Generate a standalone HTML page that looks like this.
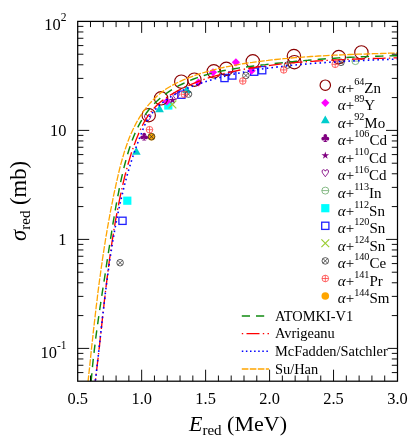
<!DOCTYPE html><html lang="en"><head><meta charset="utf-8"><style>html,body{margin:0;padding:0;background:#fff}svg{display:block;will-change:transform}text{font-family:"Liberation Serif",serif;fill:#000}</style></head><body>
<svg width="415" height="443" viewBox="0 0 415 443">
<rect width="415" height="443" fill="#fff"/>
<rect x="123.2" y="196.6" width="8.2" height="8.2" fill="#00ffff"/>
<rect x="164.2" y="101.4" width="8.2" height="8.2" fill="#00ffff"/>
<rect x="118.9" y="217.2" width="7.2" height="7.2" fill="none" stroke="#2020ff" stroke-width="1.3"/>
<rect x="177.8" y="91.1" width="7.2" height="7.2" fill="none" stroke="#2020ff" stroke-width="1.3"/>
<rect x="220.9" y="74.4" width="7.2" height="7.2" fill="none" stroke="#2020ff" stroke-width="1.3"/>
<rect x="228.7" y="71.9" width="7.2" height="7.2" fill="none" stroke="#2020ff" stroke-width="1.3"/>
<rect x="250.6" y="68.1" width="7.2" height="7.2" fill="none" stroke="#2020ff" stroke-width="1.3"/>
<rect x="258.6" y="66.6" width="7.2" height="7.2" fill="none" stroke="#2020ff" stroke-width="1.3"/>
<path d="M168.5,100.5 L176.3,108.3 M168.5,108.3 L176.3,100.5" stroke="#9acd32" stroke-width="1.15" fill="none"/>
<circle cx="151.5" cy="136.7" r="3.8" fill="#ffa500" stroke="#ffa500" stroke-width="0"/>
<path d="M136.3,146.9 L140.7,154.7 L132.0,154.7Z" fill="#00cdcd"/>
<path d="M159.6,104.4 L163.9,112.2 L155.2,112.2Z" fill="#00cdcd"/>
<path d="M186.7,85.3 L191.0,93.1 L182.3,93.1Z" fill="#00cdcd"/>
<g fill="#800080"><circle cx="144.2" cy="134.6" r="1.85"/><circle cx="142.1" cy="137.4" r="1.85"/><circle cx="146.2" cy="137.4" r="1.85"/><circle cx="144.2" cy="136.6" r="1.3"/><path d="M143.7,136.6 L144.7,136.6 L144.9,139.4 L146.5,140.6 L141.9,140.6 L143.5,139.4Z"/></g>
<polygon points="172.5,96.2 173.4,99.1 176.4,99.0 173.9,100.8 174.9,103.6 172.5,101.8 170.1,103.6 171.1,100.8 168.6,99.0 171.6,99.1" fill="#800080"/>
<path d="M147.7,121.5 C146.2,119.4 144.1,117.4 144.5,115.7 C144.9,114.0 147.1,114.0 147.7,116.1 C148.3,114.0 150.5,114.0 150.9,115.7 C151.3,117.4 149.2,119.4 147.7,121.5Z" fill="none" stroke="#800080" stroke-width="0.9"/>
<path d="M176.0,99.6 C174.5,97.5 172.4,95.5 172.8,93.8 C173.2,92.1 175.4,92.1 176.0,94.2 C176.6,92.1 178.8,92.1 179.2,93.8 C179.6,95.5 177.5,97.5 176.0,99.6Z" fill="none" stroke="#800080" stroke-width="0.9"/>
<g stroke="#6aaa6a" stroke-width="0.8" fill="none"><circle cx="355.4" cy="61.1" r="3.5"/><path d="M351.9,61.1 H358.9"/></g>
<path d="M166.8,97.4 L170.9,101.5 L166.8,105.6 L162.7,101.5Z" fill="#ff00ff"/>
<path d="M198.5,78.4 L202.6,82.5 L198.5,86.6 L194.4,82.5Z" fill="#ff00ff"/>
<path d="M213.0,68.2 L217.1,72.3 L213.0,76.4 L208.9,72.3Z" fill="#ff00ff"/>
<path d="M235.9,58.2 L240.0,62.3 L235.9,66.4 L231.8,62.3Z" fill="#ff00ff"/>
<path d="M251.6,66.6 L255.7,70.7 L251.6,74.8 L247.5,70.7Z" fill="#ff00ff"/>
<circle cx="148.7" cy="115.2" r="6.7" fill="none" stroke="#8b0000" stroke-width="1.15"/>
<circle cx="161.1" cy="98.3" r="6.7" fill="none" stroke="#8b0000" stroke-width="1.15"/>
<circle cx="181.3" cy="81.7" r="6.7" fill="none" stroke="#8b0000" stroke-width="1.15"/>
<circle cx="194.4" cy="79.7" r="6.7" fill="none" stroke="#8b0000" stroke-width="1.15"/>
<circle cx="213.8" cy="71.3" r="6.7" fill="none" stroke="#8b0000" stroke-width="1.15"/>
<circle cx="226.3" cy="68.8" r="6.7" fill="none" stroke="#8b0000" stroke-width="1.15"/>
<circle cx="252.8" cy="61.3" r="6.7" fill="none" stroke="#8b0000" stroke-width="1.15"/>
<circle cx="293.9" cy="56.1" r="6.7" fill="none" stroke="#8b0000" stroke-width="1.15"/>
<circle cx="294.4" cy="62.2" r="6.7" fill="none" stroke="#8b0000" stroke-width="1.15"/>
<circle cx="338.8" cy="57.1" r="6.7" fill="none" stroke="#8b0000" stroke-width="1.15"/>
<circle cx="361.4" cy="52.4" r="6.7" fill="none" stroke="#8b0000" stroke-width="1.15"/>
<g stroke="#333333" stroke-width="0.8" fill="none"><circle cx="120.1" cy="262.7" r="3.3"/><path d="M117.8,260.4 L122.4,265.0 M117.8,265.0 L122.4,260.4"/></g>
<g stroke="#333333" stroke-width="0.8" fill="none"><circle cx="151.5" cy="136.7" r="3.3"/><path d="M149.2,134.4 L153.8,139.0 M149.2,139.0 L153.8,134.4"/></g>
<g stroke="#333333" stroke-width="0.8" fill="none"><circle cx="188.5" cy="94.1" r="3.3"/><path d="M186.2,91.8 L190.8,96.4 M186.2,96.4 L190.8,91.8"/></g>
<g stroke="#333333" stroke-width="0.8" fill="none"><circle cx="245.9" cy="75.5" r="3.3"/><path d="M243.6,73.2 L248.2,77.8 M243.6,77.8 L248.2,73.2"/></g>
<g stroke="#333333" stroke-width="0.8" fill="none"><circle cx="287.5" cy="65.1" r="3.3"/><path d="M285.2,62.8 L289.8,67.4 M285.2,67.4 L289.8,62.8"/></g>
<g stroke="#333333" stroke-width="0.8" fill="none"><circle cx="341.0" cy="62.3" r="3.3"/><path d="M338.7,60.0 L343.3,64.6 M338.7,64.6 L343.3,60.0"/></g>
<g stroke="#ff4040" stroke-width="0.8" fill="none"><circle cx="149.5" cy="129.7" r="3.3"/><path d="M146.2,129.7 H152.8 M149.5,126.4 V133.0"/></g>
<g stroke="#ff4040" stroke-width="0.8" fill="none"><circle cx="184.3" cy="94.3" r="3.3"/><path d="M181.0,94.3 H187.6 M184.3,91.0 V97.6"/></g>
<g stroke="#ff4040" stroke-width="0.8" fill="none"><circle cx="242.8" cy="81.0" r="3.3"/><path d="M239.5,81.0 H246.1 M242.8,77.7 V84.3"/></g>
<g stroke="#ff4040" stroke-width="0.8" fill="none"><circle cx="283.7" cy="69.9" r="3.3"/><path d="M280.4,69.9 H287.0 M283.7,66.6 V73.2"/></g>
<g stroke="#ff4040" stroke-width="0.8" fill="none"><circle cx="335.2" cy="64.3" r="3.3"/><path d="M331.9,64.3 H338.5 M335.2,61.0 V67.6"/></g>
<clipPath id="cp"><rect x="77.7" y="21.4" width="319.8" height="359.8"/></clipPath>
<g clip-path="url(#cp)" fill="none">
<path d="M91.2,381.0 L91.5,377.1 L91.9,373.3 L92.2,369.4 L92.6,365.5 L93.0,361.7 L93.4,357.8 L93.9,354.0 L94.3,350.1 L94.8,346.2 L95.2,342.4 L95.7,338.5 L96.2,334.7 L96.7,330.8 L97.3,327.0 L97.8,323.1 L98.3,319.3 L98.9,315.4 L99.4,311.6 L100.0,307.7 L100.6,303.9 L101.1,300.0 L101.7,296.2 L102.3,292.4 L102.9,288.5 L103.5,284.7 L104.1,280.8 L104.7,277.0 L105.3,273.2 L105.8,269.3 L106.4,265.5 L107.0,261.6 L107.6,257.8 L108.2,254.0 L108.8,250.1 L109.4,246.3 L110.0,242.5 L110.6,238.6 L111.2,234.8 L111.8,231.0 L112.4,227.1 L113.0,223.3 L113.7,219.5 L114.3,215.7 L115.0,211.8 L115.6,208.0 L116.3,204.2 L117.0,200.4 L117.7,196.6 L118.5,192.8 L119.2,189.0 L120.0,185.2 L120.8,181.4 L121.6,177.6 L122.5,173.8 L123.4,170.0 L124.3,166.2 L125.3,162.5 L126.3,158.7 L127.4,155.0 L128.5,151.2 L129.7,147.5 L131.0,143.8 L132.3,140.1 L133.7,136.5 L135.2,132.9 L136.8,129.3 L138.5,125.9 L140.4,122.4 L142.3,119.1 L144.4,115.9 L146.6,112.7 L148.9,109.7 L151.4,106.8 L154.0,104.0 L156.8,101.3 L159.6,98.7 L162.6,96.3 L165.7,93.9 L168.9,91.7 L172.1,89.6 L175.4,87.6 L178.8,85.7 L182.3,84.0 L185.8,82.3 L189.4,80.7 L193.0,79.3 L196.6,77.9 L200.3,76.7 L204.0,75.5 L207.7,74.4 L211.5,73.4 L215.3,72.5 L219.0,71.6 L222.9,70.8 L226.7,70.0 L230.5,69.3 L234.4,68.7 L238.3,68.1 L242.1,67.5 L246.0,67.0 L249.9,66.5 L253.8,66.0 L257.7,65.5 L261.5,65.0 L265.4,64.6 L269.3,64.1 L273.1,63.7 L277.0,63.3 L280.9,62.9 L284.7,62.5 L288.6,62.1 L292.4,61.7 L296.3,61.3 L300.2,60.9 L304.0,60.6 L307.9,60.3 L311.7,59.9 L315.6,59.6 L319.4,59.3 L323.3,59.0 L327.1,58.7 L331.0,58.5 L334.8,58.2 L338.7,57.9 L342.5,57.7 L346.4,57.5 L350.3,57.3 L354.2,57.1 L358.0,56.9 L361.9,56.7 L365.8,56.6 L369.7,56.4 L373.6,56.3 L377.5,56.2 L381.4,56.1 L385.3,56.0 L389.2,55.9 L393.1,55.8 L397.0,55.8" stroke="#108a10" stroke-width="1.45" stroke-dasharray="8.3,6.1" stroke-dashoffset="0.5"/>
<path d="M95.3,381.0 L95.8,377.2 L96.3,373.4 L96.7,369.5 L97.2,365.7 L97.6,361.9 L98.1,358.1 L98.5,354.2 L98.9,350.4 L99.4,346.6 L99.8,342.8 L100.2,338.9 L100.6,335.1 L101.1,331.3 L101.5,327.5 L101.9,323.6 L102.3,319.8 L102.7,316.0 L103.2,312.1 L103.6,308.3 L104.0,304.5 L104.4,300.7 L104.9,296.8 L105.3,293.0 L105.8,289.2 L106.2,285.4 L106.7,281.6 L107.2,277.7 L107.6,273.9 L108.1,270.1 L108.6,266.3 L109.1,262.5 L109.6,258.7 L110.2,254.8 L110.7,251.0 L111.2,247.2 L111.8,243.4 L112.4,239.6 L113.0,235.8 L113.6,232.0 L114.2,228.2 L114.9,224.4 L115.5,220.7 L116.2,216.9 L116.9,213.1 L117.6,209.3 L118.4,205.5 L119.1,201.8 L119.9,198.0 L120.7,194.2 L121.5,190.5 L122.4,186.7 L123.2,182.9 L124.1,179.2 L125.0,175.4 L126.0,171.7 L127.0,168.0 L128.0,164.3 L129.1,160.6 L130.2,156.9 L131.3,153.2 L132.6,149.5 L133.8,145.9 L135.2,142.3 L136.5,138.7 L138.0,135.2 L139.5,131.6 L141.1,128.1 L142.8,124.7 L144.6,121.3 L146.6,118.0 L148.6,114.8 L150.9,111.8 L153.3,108.9 L155.9,106.2 L158.7,103.6 L161.7,101.1 L164.8,98.8 L168.0,96.6 L171.2,94.5 L174.6,92.6 L177.9,90.7 L181.4,88.9 L184.9,87.2 L188.4,85.6 L191.9,84.0 L195.5,82.6 L199.1,81.2 L202.7,79.9 L206.4,78.6 L210.0,77.4 L213.7,76.3 L217.4,75.3 L221.1,74.3 L224.8,73.3 L228.6,72.4 L232.3,71.6 L236.1,70.8 L239.9,70.0 L243.6,69.3 L247.4,68.6 L251.2,68.0 L255.0,67.4 L258.8,66.8 L262.6,66.3 L266.4,65.8 L270.3,65.3 L274.1,64.8 L277.9,64.3 L281.7,63.9 L285.6,63.5 L289.4,63.1 L293.2,62.8 L297.0,62.4 L300.9,62.1 L304.7,61.8 L308.6,61.5 L312.4,61.3 L316.2,61.0 L320.1,60.8 L323.9,60.5 L327.8,60.3 L331.6,60.1 L335.5,59.9 L339.3,59.8 L343.2,59.6 L347.0,59.4 L350.8,59.3 L354.7,59.2 L358.5,59.0 L362.4,58.9 L366.2,58.8 L370.1,58.6 L373.9,58.5 L377.8,58.4 L381.6,58.3 L385.5,58.2 L389.3,58.1 L393.2,57.9 L397.0,57.8" stroke="#ff0000" stroke-width="1.35" stroke-dasharray="1.4,3.25,12.93,3.25" stroke-dashoffset="-6.0"/>
<path d="M95.3,381.0 L95.8,377.2 L96.2,373.4 L96.7,369.6 L97.1,365.8 L97.5,362.0 L98.0,358.2 L98.4,354.4 L98.8,350.6 L99.2,346.8 L99.7,343.0 L100.1,339.2 L100.5,335.4 L100.9,331.6 L101.3,327.8 L101.8,324.0 L102.2,320.2 L102.6,316.4 L103.1,312.6 L103.5,308.8 L104.0,304.9 L104.4,301.1 L104.9,297.3 L105.3,293.5 L105.8,289.7 L106.3,285.9 L106.8,282.1 L107.3,278.3 L107.8,274.5 L108.3,270.7 L108.8,266.9 L109.4,263.1 L109.9,259.3 L110.5,255.5 L111.1,251.7 L111.7,248.0 L112.3,244.2 L112.9,240.4 L113.6,236.6 L114.2,232.9 L114.9,229.1 L115.6,225.3 L116.3,221.6 L117.1,217.8 L117.8,214.1 L118.6,210.3 L119.4,206.6 L120.2,202.9 L121.1,199.2 L122.0,195.4 L122.9,191.7 L123.8,188.0 L124.7,184.3 L125.7,180.6 L126.7,176.9 L127.7,173.2 L128.8,169.6 L129.9,165.9 L131.0,162.3 L132.2,158.6 L133.4,155.0 L134.6,151.4 L135.9,147.7 L137.2,144.1 L138.6,140.6 L139.9,137.0 L141.4,133.4 L142.8,129.8 L144.2,126.3 L145.8,122.8 L147.6,119.5 L149.7,116.3 L151.9,113.3 L154.4,110.4 L157.0,107.7 L159.7,105.1 L162.6,102.7 L165.6,100.4 L168.7,98.2 L171.9,96.1 L175.2,94.2 L178.6,92.4 L182.0,90.7 L185.5,89.0 L189.1,87.5 L192.7,86.1 L196.4,84.7 L200.0,83.4 L203.7,82.2 L207.4,81.0 L211.1,79.9 L214.9,78.8 L218.6,77.8 L222.3,76.8 L226.0,75.9 L229.7,75.0 L233.4,74.2 L237.2,73.4 L240.9,72.7 L244.6,71.9 L248.4,71.2 L252.1,70.6 L255.9,70.0 L259.7,69.4 L263.4,68.8 L267.2,68.3 L271.0,67.8 L274.8,67.3 L278.5,66.8 L282.3,66.4 L286.1,65.9 L289.9,65.5 L293.8,65.1 L297.6,64.7 L301.4,64.4 L305.2,64.1 L309.0,63.7 L312.8,63.4 L316.7,63.1 L320.5,62.9 L324.3,62.6 L328.2,62.3 L332.0,62.1 L335.8,61.9 L339.7,61.6 L343.5,61.4 L347.3,61.2 L351.2,61.0 L355.0,60.8 L358.8,60.7 L362.7,60.5 L366.5,60.3 L370.3,60.1 L374.1,60.0 L377.9,59.8 L381.8,59.7 L385.6,59.5 L389.4,59.3 L393.2,59.2 L397.0,59.0" stroke="#0000ff" stroke-width="1.6" stroke-dasharray="1.6,3.23" stroke-dashoffset="-0.4"/>
<path d="M88.1,381.1 L88.5,377.1 L88.9,373.2 L89.4,369.2 L89.8,365.3 L90.2,361.4 L90.6,357.4 L91.0,353.5 L91.4,349.6 L91.8,345.7 L92.3,341.8 L92.7,337.9 L93.1,334.0 L93.5,330.1 L94.0,326.2 L94.4,322.3 L94.9,318.4 L95.3,314.5 L95.8,310.6 L96.2,306.7 L96.7,302.9 L97.2,299.0 L97.6,295.1 L98.1,291.2 L98.6,287.4 L99.1,283.5 L99.6,279.6 L100.2,275.8 L100.7,271.9 L101.2,268.0 L101.8,264.2 L102.3,260.3 L102.9,256.5 L103.5,252.6 L104.1,248.7 L104.7,244.9 L105.3,241.0 L105.9,237.2 L106.6,233.3 L107.2,229.5 L107.9,225.6 L108.6,221.7 L109.3,217.9 L110.0,214.0 L110.7,210.2 L111.5,206.3 L112.3,202.5 L113.0,198.6 L113.8,194.7 L114.6,190.9 L115.5,187.0 L116.3,183.1 L117.2,179.3 L118.1,175.4 L119.0,171.5 L119.9,167.7 L120.9,163.8 L122.0,160.0 L123.1,156.2 L124.2,152.4 L125.4,148.7 L126.7,145.0 L128.0,141.3 L129.4,137.6 L130.9,134.0 L132.5,130.5 L134.2,127.0 L135.9,123.6 L137.8,120.2 L139.8,116.9 L141.9,113.7 L144.1,110.5 L146.5,107.4 L148.9,104.4 L151.6,101.5 L154.3,98.7 L157.1,96.0 L160.1,93.5 L163.2,91.1 L166.4,88.8 L169.8,86.7 L173.2,84.8 L176.7,83.0 L180.2,81.3 L183.9,79.7 L187.5,78.2 L191.2,76.8 L194.9,75.4 L198.7,74.2 L202.4,73.0 L206.2,71.8 L210.0,70.8 L213.7,69.8 L217.6,68.8 L221.4,67.9 L225.2,67.1 L229.1,66.3 L232.9,65.5 L236.8,64.8 L240.6,64.2 L244.5,63.5 L248.4,62.9 L252.3,62.4 L256.2,61.8 L260.1,61.3 L264.0,60.8 L267.9,60.4 L271.8,59.9 L275.7,59.5 L279.6,59.1 L283.5,58.7 L287.4,58.4 L291.3,58.0 L295.2,57.7 L299.1,57.4 L303.0,57.1 L306.9,56.8 L310.8,56.5 L314.7,56.3 L318.6,56.0 L322.5,55.8 L326.4,55.6 L330.3,55.4 L334.3,55.2 L338.2,55.0 L342.1,54.9 L346.0,54.7 L349.9,54.5 L353.9,54.4 L357.8,54.2 L361.7,54.1 L365.6,54.0 L369.5,53.8 L373.5,53.7 L377.4,53.6 L381.3,53.5 L385.2,53.4 L389.2,53.2 L393.1,53.1 L397.0,53.0" stroke="#ffa500" stroke-width="1.3" stroke-dasharray="6.7,1.44" stroke-dashoffset="1.0"/>
</g>
<path d="M90.49,381.2 v-5.7 M90.49,21.4 v5.7 M103.28,381.2 v-5.7 M103.28,21.4 v5.7 M116.08,381.2 v-5.7 M116.08,21.4 v5.7 M128.87,381.2 v-5.7 M128.87,21.4 v5.7 M141.66,381.2 v-11.5 M141.66,21.4 v11.5 M154.45,381.2 v-5.7 M154.45,21.4 v5.7 M167.24,381.2 v-5.7 M167.24,21.4 v5.7 M180.04,381.2 v-5.7 M180.04,21.4 v5.7 M192.83,381.2 v-5.7 M192.83,21.4 v5.7 M205.62,381.2 v-11.5 M205.62,21.4 v11.5 M218.41,381.2 v-5.7 M218.41,21.4 v5.7 M231.20,381.2 v-5.7 M231.20,21.4 v5.7 M244.00,381.2 v-5.7 M244.00,21.4 v5.7 M256.79,381.2 v-5.7 M256.79,21.4 v5.7 M269.58,381.2 v-11.5 M269.58,21.4 v11.5 M282.37,381.2 v-5.7 M282.37,21.4 v5.7 M295.16,381.2 v-5.7 M295.16,21.4 v5.7 M307.96,381.2 v-5.7 M307.96,21.4 v5.7 M320.75,381.2 v-5.7 M320.75,21.4 v5.7 M333.54,381.2 v-11.5 M333.54,21.4 v11.5 M346.33,381.2 v-5.7 M346.33,21.4 v5.7 M359.12,381.2 v-5.7 M359.12,21.4 v5.7 M371.92,381.2 v-5.7 M371.92,21.4 v5.7 M384.71,381.2 v-5.7 M384.71,21.4 v5.7 M77.7,372.58 h5.7 M397.5,372.58 h-5.7 M77.7,365.28 h5.7 M397.5,365.28 h-5.7 M77.7,358.96 h5.7 M397.5,358.96 h-5.7 M77.7,353.39 h5.7 M397.5,353.39 h-5.7 M77.7,348.40 h11.5 M397.5,348.40 h-11.5 M77.7,315.59 h5.7 M397.5,315.59 h-5.7 M77.7,296.39 h5.7 M397.5,296.39 h-5.7 M77.7,282.78 h5.7 M397.5,282.78 h-5.7 M77.7,272.21 h5.7 M397.5,272.21 h-5.7 M77.7,263.58 h5.7 M397.5,263.58 h-5.7 M77.7,256.28 h5.7 M397.5,256.28 h-5.7 M77.7,249.96 h5.7 M397.5,249.96 h-5.7 M77.7,244.39 h5.7 M397.5,244.39 h-5.7 M77.7,239.40 h11.5 M397.5,239.40 h-11.5 M77.7,206.59 h5.7 M397.5,206.59 h-5.7 M77.7,187.39 h5.7 M397.5,187.39 h-5.7 M77.7,173.78 h5.7 M397.5,173.78 h-5.7 M77.7,163.21 h5.7 M397.5,163.21 h-5.7 M77.7,154.58 h5.7 M397.5,154.58 h-5.7 M77.7,147.28 h5.7 M397.5,147.28 h-5.7 M77.7,140.96 h5.7 M397.5,140.96 h-5.7 M77.7,135.39 h5.7 M397.5,135.39 h-5.7 M77.7,130.40 h11.5 M397.5,130.40 h-11.5 M77.7,97.59 h5.7 M397.5,97.59 h-5.7 M77.7,78.39 h5.7 M397.5,78.39 h-5.7 M77.7,64.78 h5.7 M397.5,64.78 h-5.7 M77.7,54.21 h5.7 M397.5,54.21 h-5.7 M77.7,45.58 h5.7 M397.5,45.58 h-5.7 M77.7,38.28 h5.7 M397.5,38.28 h-5.7 M77.7,31.96 h5.7 M397.5,31.96 h-5.7 M77.7,26.39 h5.7 M397.5,26.39 h-5.7" stroke="#000" stroke-width="0.95" fill="none"/>
<rect x="77.7" y="21.4" width="319.8" height="359.8" fill="none" stroke="#000" stroke-width="1.25"/>
<text x="77.7" y="404.4" font-size="16.4" text-anchor="middle">0.5</text>
<text x="141.7" y="404.4" font-size="16.4" text-anchor="middle">1.0</text>
<text x="205.6" y="404.4" font-size="16.4" text-anchor="middle">1.5</text>
<text x="269.6" y="404.4" font-size="16.4" text-anchor="middle">2.0</text>
<text x="333.5" y="404.4" font-size="16.4" text-anchor="middle">2.5</text>
<text x="397.5" y="404.4" font-size="16.4" text-anchor="middle">3.0</text>
<text x="66.5" y="29.8" font-size="16.4" text-anchor="end">10<tspan font-size="11.5" dy="-9">2</tspan></text>
<text x="66.5" y="136.0" font-size="16.4" text-anchor="end">10</text>
<text x="66.5" y="245.0" font-size="16.4" text-anchor="end">1</text>
<text x="66.5" y="357.6" font-size="16.4" text-anchor="end">10<tspan font-size="11.5" dy="-9">-1</tspan></text>
<text x="189" y="431" font-size="22"><tspan font-style="italic">E</tspan><tspan font-size="15" dy="4">red</tspan><tspan dy="-4"> (MeV)</tspan></text>
<text transform="translate(26,240.9) rotate(-90)" font-size="22.6"><tspan font-style="italic">σ</tspan><tspan font-size="15" dy="4">red</tspan><tspan dy="-4"> (mb)</tspan></text>
<g class="lg">
<circle cx="325.3" cy="85.2" r="5.2" fill="none" stroke="#8b0000" stroke-width="1.2"/>
<text x="337.8" y="92.5" font-size="15"><tspan font-style="italic">α</tspan>+<tspan font-size="10.2" dy="-7.8">64</tspan><tspan dy="7.8">Zn</tspan></text></g>
<g class="lg">
<path d="M325.3,98.7 L329.4,102.8 L325.3,106.9 L321.2,102.8Z" fill="#ff00ff"/>
<text x="337.8" y="110.1" font-size="15"><tspan font-style="italic">α</tspan>+<tspan font-size="10.2" dy="-7.8">89</tspan><tspan dy="7.8">Y</tspan></text></g>
<g class="lg">
<path d="M325.3,115.4 L329.7,123.2 L320.9,123.2Z" fill="#00cdcd"/>
<text x="337.8" y="127.6" font-size="15"><tspan font-style="italic">α</tspan>+<tspan font-size="10.2" dy="-7.8">92</tspan><tspan dy="7.8">Mo</tspan></text></g>
<g class="lg">
<g fill="#800080"><circle cx="325.3" cy="135.9" r="1.85"/><circle cx="323.2" cy="138.7" r="1.85"/><circle cx="327.4" cy="138.7" r="1.85"/><circle cx="325.3" cy="137.9" r="1.3"/><path d="M324.8,137.9 L325.8,137.9 L326.0,140.7 L327.6,141.9 L323.0,141.9 L324.6,140.7Z"/></g>
<text x="337.8" y="145.2" font-size="15"><tspan font-style="italic">α</tspan>+<tspan font-size="10.2" dy="-7.8">106</tspan><tspan dy="7.8">Cd</tspan></text></g>
<g class="lg">
<polygon points="325.3,151.4 326.2,154.3 329.2,154.2 326.7,155.9 327.7,158.8 325.3,157.0 322.9,158.8 323.9,155.9 321.4,154.2 324.4,154.3" fill="#800080"/>
<text x="337.8" y="162.8" font-size="15"><tspan font-style="italic">α</tspan>+<tspan font-size="10.2" dy="-7.8">110</tspan><tspan dy="7.8">Cd</tspan></text></g>
<g class="lg">
<path d="M325.3,176.7 C323.8,174.6 321.7,172.6 322.1,170.9 C322.5,169.2 324.7,169.2 325.3,171.2 C325.9,169.2 328.1,169.2 328.5,170.9 C328.9,172.6 326.8,174.6 325.3,176.7Z" fill="none" stroke="#800080" stroke-width="0.9"/>
<text x="337.8" y="180.4" font-size="15"><tspan font-style="italic">α</tspan>+<tspan font-size="10.2" dy="-7.8">116</tspan><tspan dy="7.8">Cd</tspan></text></g>
<g class="lg">
<g stroke="#6aaa6a" stroke-width="0.8" fill="none"><circle cx="325.3" cy="190.6" r="3.5"/><path d="M321.8,190.6 H328.8"/></g>
<text x="337.8" y="197.9" font-size="15"><tspan font-style="italic">α</tspan>+<tspan font-size="10.2" dy="-7.8">113</tspan><tspan dy="7.8">In</tspan></text></g>
<g class="lg">
<rect x="321.2" y="204.1" width="8.2" height="8.2" fill="#00ffff"/>
<text x="337.8" y="215.5" font-size="15"><tspan font-style="italic">α</tspan>+<tspan font-size="10.2" dy="-7.8">112</tspan><tspan dy="7.8">Sn</tspan></text></g>
<g class="lg">
<rect x="321.7" y="222.2" width="7.2" height="7.2" fill="none" stroke="#2020ff" stroke-width="1.3"/>
<text x="337.8" y="233.1" font-size="15"><tspan font-style="italic">α</tspan>+<tspan font-size="10.2" dy="-7.8">120</tspan><tspan dy="7.8">Sn</tspan></text></g>
<g class="lg">
<path d="M321.4,239.4 L329.2,247.2 M321.4,247.2 L329.2,239.4" stroke="#9acd32" stroke-width="1.15" fill="none"/>
<text x="337.8" y="250.6" font-size="15"><tspan font-style="italic">α</tspan>+<tspan font-size="10.2" dy="-7.8">124</tspan><tspan dy="7.8">Sn</tspan></text></g>
<g class="lg">
<g stroke="#333333" stroke-width="0.8" fill="none"><circle cx="325.3" cy="260.9" r="3.3"/><path d="M323.0,258.6 L327.6,263.2 M323.0,263.2 L327.6,258.6"/></g>
<text x="337.8" y="268.2" font-size="15"><tspan font-style="italic">α</tspan>+<tspan font-size="10.2" dy="-7.8">140</tspan><tspan dy="7.8">Ce</tspan></text></g>
<g class="lg">
<g stroke="#ff4040" stroke-width="0.8" fill="none"><circle cx="325.3" cy="278.5" r="3.3"/><path d="M322.0,278.5 H328.6 M325.3,275.2 V281.8"/></g>
<text x="337.8" y="285.8" font-size="15"><tspan font-style="italic">α</tspan>+<tspan font-size="10.2" dy="-7.8">141</tspan><tspan dy="7.8">Pr</tspan></text></g>
<g class="lg">
<circle cx="325.3" cy="296.0" r="3.8" fill="#ffa500" stroke="#ffa500" stroke-width="0"/>
<text x="337.8" y="303.3" font-size="15"><tspan font-style="italic">α</tspan>+<tspan font-size="10.2" dy="-7.8">144</tspan><tspan dy="7.8">Sm</tspan></text></g>
<path d="M241.8,315.9 H269" stroke="#108a10" stroke-width="1.45" stroke-dasharray="8.2,6.0" fill="none"/>
<text x="275.0" y="320.5" font-size="14.4">ATOMKI-V1</text>
<path d="M241.8,333.6 H269" stroke="#ff0000" stroke-width="1.35" stroke-dasharray="1.4,3.3,13,3.3" fill="none"/>
<text x="275.0" y="338.2" font-size="14.4">Avrigeanu</text>
<rect x="275" y="344.3" width="112.6" height="13" fill="#fff"/>
<path d="M241.8,351.3 H269" stroke="#0000ff" stroke-width="1.6" stroke-dasharray="1.5,2.6" fill="none"/>
<text x="275.0" y="355.9" font-size="14.4">McFadden/Satchler</text>
<path d="M241.8,369.0 H269" stroke="#ffa500" stroke-width="1.3" stroke-dasharray="6.6,1.4" fill="none"/>
<text x="275.0" y="373.6" font-size="14.4">Su/Han</text>
</svg></body></html>
